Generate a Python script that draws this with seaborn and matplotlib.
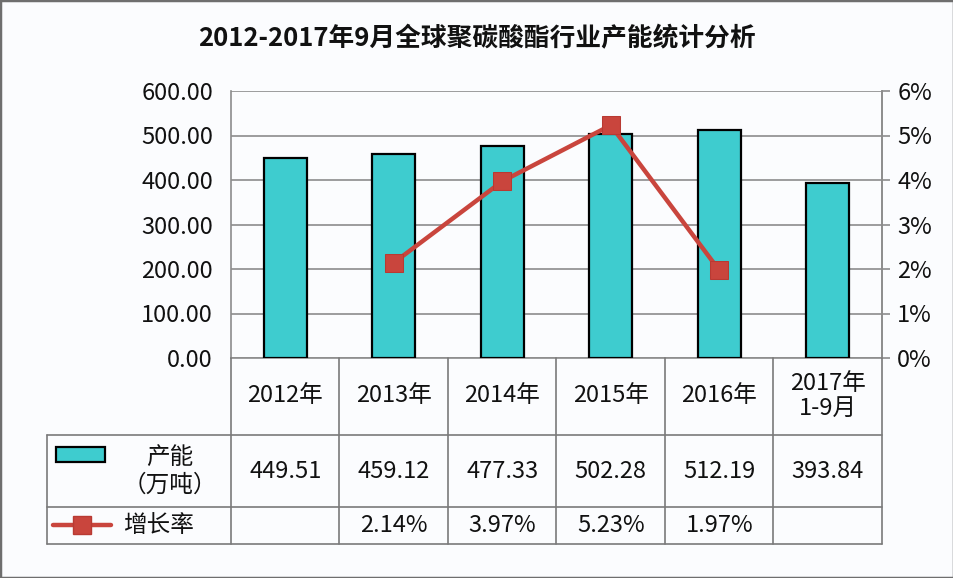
import numpy as np
import pandas as pd
import matplotlib
matplotlib.use("Agg")
import matplotlib.pyplot as plt
import seaborn as sns
from matplotlib.lines import Line2D
from matplotlib.patches import Rectangle
from matplotlib.ticker import FuncFormatter
from matplotlib.transforms import blended_transform_factory

# ---------------- data ----------------
categories = ["2012年", "2013年", "2014年", "2015年", "2016年", "2017年\n1-9月"]
capacity = [449.51, 459.12, 477.33, 502.28, 512.19, 393.84]
rate_categories = ["2013年", "2014年", "2015年", "2016年"]
rate_values = [2.14, 3.97, 5.23, 1.97]  # percent
title = "2012-2017年9月全球聚碳酸酯行业产能统计分析"
bar_label = "产能\n（万吨）"
line_label = "增长率"
left_ticks = [0, 100, 200, 300, 400, 500, 600]
right_ticks = [0, 1, 2, 3, 4, 5, 6]

# ---------------- style ----------------
sns.set_theme(style="white")
plt.rcParams["font.family"] = ["Noto Sans CJK SC", "DejaVu Sans"]

TEAL = "#3ECCCF"
RED = "#C9453D"
GRID = "#8C8C8C"
TXT = "#111111"
BG = "#FBFCFE"
FS = 17

W, H = 954, 578
fig = plt.figure(figsize=(W / 100, H / 100), dpi=100)
fig.patch.set_facecolor(BG)

def fx(px):
    return px / W

def fy(py):
    return 1 - py / H

x_left, x_right, y_top, y_bot = 231, 882, 91, 358
ax = fig.add_axes([fx(x_left), fy(y_bot), fx(x_right) - fx(x_left), fy(y_top) - fy(y_bot)])
ax.set_facecolor(BG)

df = pd.DataFrame({"cat": categories, "cap": capacity})
sns.barplot(data=df, x="cat", y="cap", ax=ax, color=TEAL, width=0.4,
            edgecolor="black", linewidth=1.6, saturation=1, zorder=3)
ax.set_xlim(-0.5, len(categories) - 0.5)
ax.set_ylim(left_ticks[0], left_ticks[-1])
ax.set_yticks(left_ticks)
ax.yaxis.set_major_formatter(FuncFormatter(lambda v, p: f"{v:.2f}"))
ax.tick_params(axis="y", length=0, pad=13, labelsize=FS, labelcolor=TXT)
ax.set_xticks([])
ax.set_xlabel("")
ax.set_ylabel("")
ax.grid(axis="y", color=GRID, linewidth=1.2, zorder=0)
ax.set_axisbelow(True)
for s in ax.spines.values():
    s.set_color(GRID)
    s.set_linewidth(1.2)
ax.spines["top"].set_visible(False)

# line on secondary axis
ax2 = ax.twinx()
pos = [categories.index(c) for c in rate_categories]
ldf = pd.DataFrame({"x": pos, "r": rate_values})
sns.lineplot(data=ldf, x="x", y="r", ax=ax2, color=RED, linewidth=3.2,
             marker="s", markersize=13, markeredgecolor="#B83A33",
             markerfacecolor=RED, zorder=5)
ax2.set_ylim(right_ticks[0], right_ticks[-1])
ax2.set_yticks(right_ticks)
ax2.yaxis.set_major_formatter(FuncFormatter(lambda v, p: f"{v:.0f}%"))
ax2.tick_params(axis="y", length=6, width=1.2, color=GRID, pad=5,
                labelsize=FS, labelcolor=TXT, right=True)
ax2.set_xlabel("")
ax2.set_ylabel("")
ax2.set_xlim(-0.5, len(categories) - 0.5)
for s in ax2.spines.values():
    s.set_visible(False)
ax2.spines["right"].set_visible(True)
ax2.spines["right"].set_color(GRID)
ax2.spines["right"].set_linewidth(1.2)

# ---------------- title ----------------
fig.text(fx(477), fy(39), title, ha="center", va="center", fontsize=18.5,
         fontweight="bold", color=TXT)

# ---------------- data table ----------------
tr = blended_transform_factory(ax.transData, fig.transFigure)
row_y = [y_bot, 435, 507, 544]
lc = "#7A7A7A"
lw = 1.2
n = len(categories)
edges = np.arange(n + 1) - 0.5
for e in edges:
    fig.add_artist(Line2D([e, e], [fy(row_y[0]), fy(row_y[3])], transform=tr,
                          color=lc, linewidth=lw))
for yy in row_y[1:]:
    fig.add_artist(Line2D([fx(47), fx(x_right)], [fy(yy), fy(yy)],
                          transform=fig.transFigure, color=lc, linewidth=lw))
fig.add_artist(Line2D([fx(47), fx(47)], [fy(row_y[1]), fy(row_y[3])],
                      transform=fig.transFigure, color=lc, linewidth=lw))

for i, c in enumerate(categories):
    fig.text(i, fy(396), c, transform=tr, ha="center", va="center",
             fontsize=FS, color=TXT, linespacing=1.1)
for i, v in enumerate(capacity):
    fig.text(i, fy(471), f"{v:.2f}", transform=tr, ha="center", va="center",
             fontsize=FS, color=TXT)
for c, r in zip(rate_categories, rate_values):
    fig.text(categories.index(c), fy(525), f"{r:.2f}%", transform=tr,
             ha="center", va="center", fontsize=FS, color=TXT)

# legend keys in table
fig.add_artist(Rectangle((fx(56), fy(462)), fx(105) - fx(56), fy(447) - fy(462),
                         transform=fig.transFigure, facecolor=TEAL,
                         edgecolor="black", linewidth=1.6))
fig.text(fx(170), fy(471), bar_label, ha="center", va="center", fontsize=FS,
         color=TXT, linespacing=1.25)
fig.add_artist(Line2D([fx(53), fx(111)], [fy(525), fy(525)],
                      transform=fig.transFigure, color=RED, linewidth=3.2))
fig.add_artist(Line2D([fx(82)], [fy(525)], transform=fig.transFigure,
                      color=RED, marker="s", markersize=13,
                      markeredgecolor="#B83A33"))
fig.text(fx(158), fy(525), line_label, ha="center", va="center", fontsize=FS,
         color=TXT)

# figure border
fig.add_artist(Rectangle((0, 0), 1, 1, transform=fig.transFigure, fill=False,
                         edgecolor="#6E6E6E", linewidth=2.5))

fig.savefig("out.png", dpi=100, facecolor=BG)
